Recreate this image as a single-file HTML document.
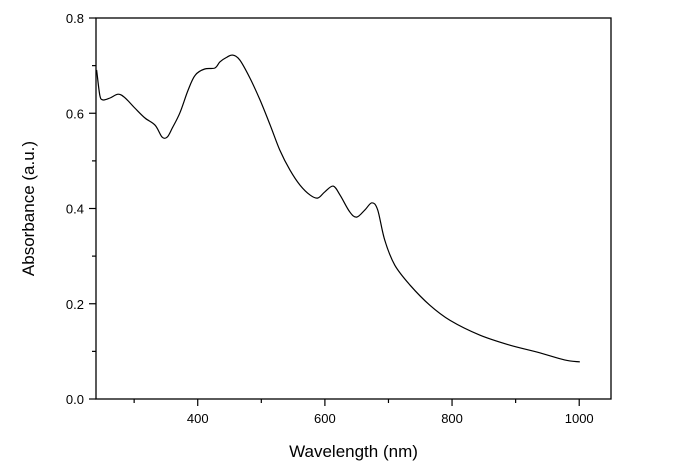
<!DOCTYPE html>
<html><head><meta charset="utf-8"><style>
body{margin:0;background:#fff}
svg text{font-family:"Liberation Sans",Arial,sans-serif;fill:#000}
</style></head><body>
<svg id="chart" width="689" height="470" xmlns="http://www.w3.org/2000/svg"></svg>
<script>
const wavelengths=[241,246,251,262,275,286,301,317,333,344,352,360,372,385,396,411,427,435,446,455,466,482,498,514,529,545,561,577,589,600,613,624,639,650,663,674,683,694,710,734,765,797,844,891,938,977,1001];
const absorbance=[0.691,0.638,0.628,0.632,0.640,0.632,0.611,0.590,0.575,0.550,0.550,0.569,0.601,0.649,0.680,0.693,0.695,0.708,0.718,0.722,0.712,0.674,0.628,0.575,0.523,0.481,0.449,0.428,0.422,0.435,0.447,0.428,0.393,0.382,0.397,0.412,0.397,0.334,0.281,0.239,0.197,0.165,0.134,0.113,0.097,0.082,0.078];
const xTicks=[400,600,800,1000];
const xMinor=[300,500,700,900];
const yTicks=[0.0,0.2,0.4,0.6,0.8];
const yTickLabels=["0.0","0.2","0.4","0.6","0.8"];
const yMinor=[0.1,0.3,0.5,0.7];
const L=96,R=611,T=18,B=399,X0=240,X1=1050,Y0=0,Y1=0.8;
const xs=v=>L+(v-X0)/(X1-X0)*(R-L);
const ys=v=>B-(v-Y0)/(Y1-Y0)*(B-T);
const svg=document.getElementById('chart');
const NS="http://www.w3.org/2000/svg";
function mk(tag,attrs,name){const e=document.createElementNS(NS,tag);for(const k in attrs)e.setAttribute(k,attrs[k]);


svg.appendChild(e);return e;}
mk('rect',{x:L,y:T,width:R-L,height:B-T,fill:'none',stroke:'#000','stroke-width':1.3},'plot-frame');
xTicks.forEach(v=>{mk('line',{x1:xs(v),x2:xs(v),y1:B,y2:B+7,stroke:'#000','stroke-width':1.2},'x-tick');
const t=mk('text',{x:xs(v),y:B+24,'text-anchor':'middle','font-size':13},'x-tick-label');t.textContent=v;});
xMinor.forEach(v=>mk('line',{x1:xs(v),x2:xs(v),y1:B,y2:B+4,stroke:'#000','stroke-width':1.2},'x-minor-tick'));
yTicks.forEach((v,i)=>{mk('line',{x1:L-7,x2:L,y1:ys(v),y2:ys(v),stroke:'#000','stroke-width':1.2},'y-tick');
const t=mk('text',{x:L-12,y:ys(v)+5,'text-anchor':'end','font-size':13},'y-tick-label');t.textContent=yTickLabels[i];});
yMinor.forEach(v=>mk('line',{x1:L-4,x2:L,y1:ys(v),y2:ys(v),stroke:'#000','stroke-width':1.2},'y-minor-tick'));
const P=wavelengths.map((w,i)=>[xs(w),ys(absorbance[i])]);
let d='M'+P[0][0].toFixed(1)+','+P[0][1].toFixed(1);
for(let i=0;i<P.length-1;i++){const p0=P[Math.max(0,i-1)],p1=P[i],p2=P[i+1],p3=P[Math.min(P.length-1,i+2)];
const c1=[p1[0]+(p2[0]-p0[0])/6,p1[1]+(p2[1]-p0[1])/6],c2=[p2[0]-(p3[0]-p1[0])/6,p2[1]-(p3[1]-p1[1])/6];
d+=` C${c1[0].toFixed(1)},${c1[1].toFixed(1)} ${c2[0].toFixed(1)},${c2[1].toFixed(1)} ${p2[0].toFixed(1)},${p2[1].toFixed(1)}`;}
mk('path',{d:d,fill:'none',stroke:'#000','stroke-width':1.2},'absorbance-line');
const xt=mk('text',{x:(L+R)/2,y:457,'text-anchor':'middle','font-size':17},'x-axis-title');xt.textContent='Wavelength (nm)';
const yt=mk('text',{x:0,y:0,'text-anchor':'middle','font-size':17,transform:`translate(34,${(T+B)/2}) rotate(-90)`},'y-axis-title');yt.textContent='Absorbance (a.u.)';
</script>
</body></html>
